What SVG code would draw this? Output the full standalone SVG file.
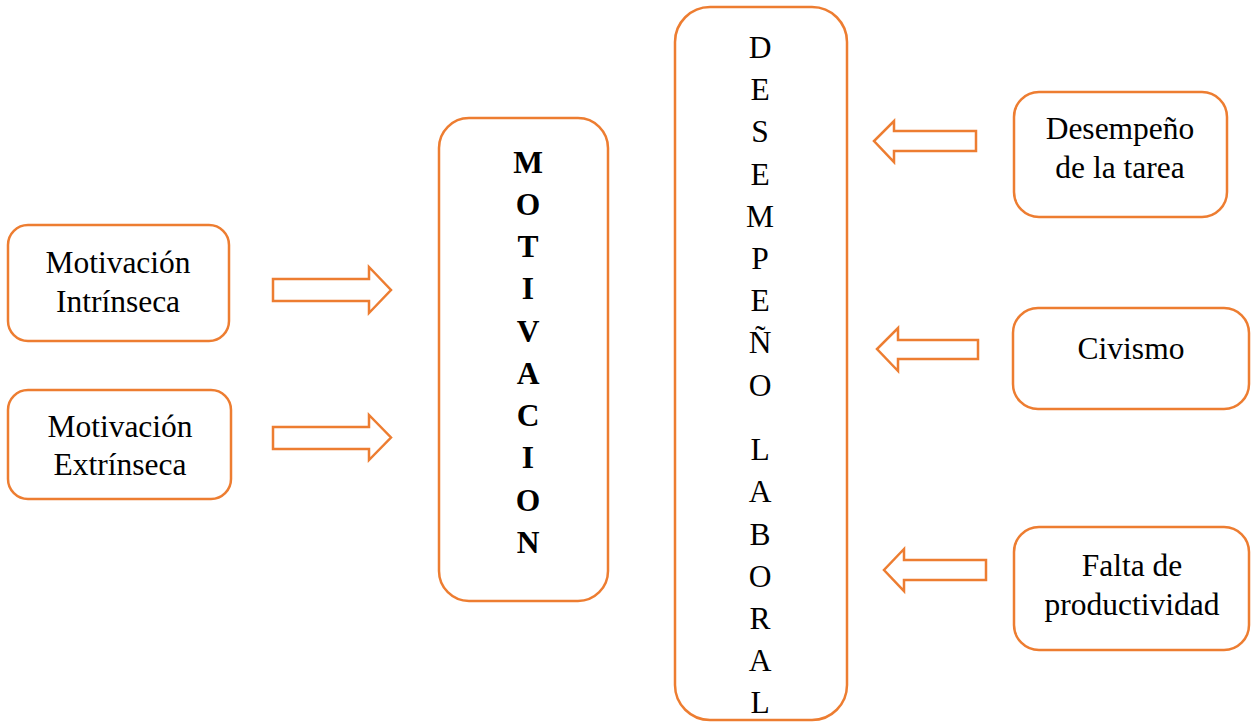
<svg xmlns="http://www.w3.org/2000/svg" width="1257" height="722" viewBox="0 0 1257 722" font-family="Liberation Serif, Times New Roman, serif">
<style>
.box{fill:#fff;stroke:#ED7D31;stroke-width:2.5}
.arr{fill:#fff;stroke:#ED7D31;stroke-width:2.5;stroke-linejoin:miter}
.t{font-size:31.5px;fill:#000;text-anchor:middle}
.b{font-weight:bold}
</style>
<rect width="1257" height="722" fill="#fff"/>
<g id="connectors">
<path class="arr" d="M273,279 H369 V267 L391,290 L369,313 V301 H273 Z"/>
<path class="arr" d="M273,427 H369 V415 L391,437.5 L369,460 V449 H273 Z"/>
<path class="arr" d="M976,131 H894 V121 L874,141 L894,162 V151 H976 Z"/>
<path class="arr" d="M978,340 H898 V328 L877,349 L898,371 V359 H978 Z"/>
<path class="arr" d="M986,560 H904 V549 L884,570 L904,591 V580 H986 Z"/>
</g>
<g id="n-intrinseca" class="t" font-family="Liberation Serif">
<rect class="box" x="8" y="225" width="221" height="116" rx="20"/>
<text x="118" y="273">Motivación</text>
<text x="118" y="312">Intrínseca</text>
</g>
<g id="n-extrinseca" class="t" font-family="Liberation Serif">
<rect class="box" x="8" y="390" width="223" height="109" rx="20"/>
<text x="120" y="437">Motivación</text>
<text x="120" y="475">Extrínseca</text>
</g>
<g id="n-motivacion" class="t b" font-family="Liberation Serif">
<rect class="box" x="439" y="118" width="169" height="483" rx="30"/>
<text x="528" y="173">M</text>
<text x="528" y="215">O</text>
<text x="528" y="257">T</text>
<text x="528" y="299">I</text>
<text x="528" y="342">V</text>
<text x="528" y="384">A</text>
<text x="528" y="426">C</text>
<text x="528" y="468">I</text>
<text x="528" y="511">O</text>
<text x="528" y="553">N</text>
</g>
<g id="n-desempeno" class="t" font-family="Liberation Serif">
<rect class="box" x="675" y="7" width="172" height="713" rx="35"/>
<text x="760" y="58">D</text>
<text x="760" y="100">E</text>
<text x="760" y="142">S</text>
<text x="760" y="185">E</text>
<text x="760" y="227">M</text>
<text x="760" y="269">P</text>
<text x="760" y="311">E</text>
<text x="760" y="353">Ñ</text>
<text x="760" y="396">O</text>
<text x="760" y="460">L</text>
<text x="760" y="502">A</text>
<text x="760" y="545">B</text>
<text x="760" y="587">O</text>
<text x="760" y="629">R</text>
<text x="760" y="671">A</text>
<text x="760" y="713">L</text>
</g>
<g id="n-tarea" class="t" font-family="Liberation Serif">
<rect class="box" x="1014" y="92" width="213" height="125" rx="25"/>
<text x="1120" y="139">Desempeño</text>
<text x="1120" y="178">de la tarea</text>
</g>
<g id="n-civismo" class="t" font-family="Liberation Serif">
<rect class="box" x="1013" y="308" width="236" height="101" rx="25"/>
<text x="1131" y="359">Civismo</text>
</g>
<g id="n-productividad" class="t" font-family="Liberation Serif">
<rect class="box" x="1014" y="527" width="235" height="123" rx="25"/>
<text x="1132" y="576">Falta de</text>
<text x="1132" y="615">productividad</text>
</g>
</svg>
